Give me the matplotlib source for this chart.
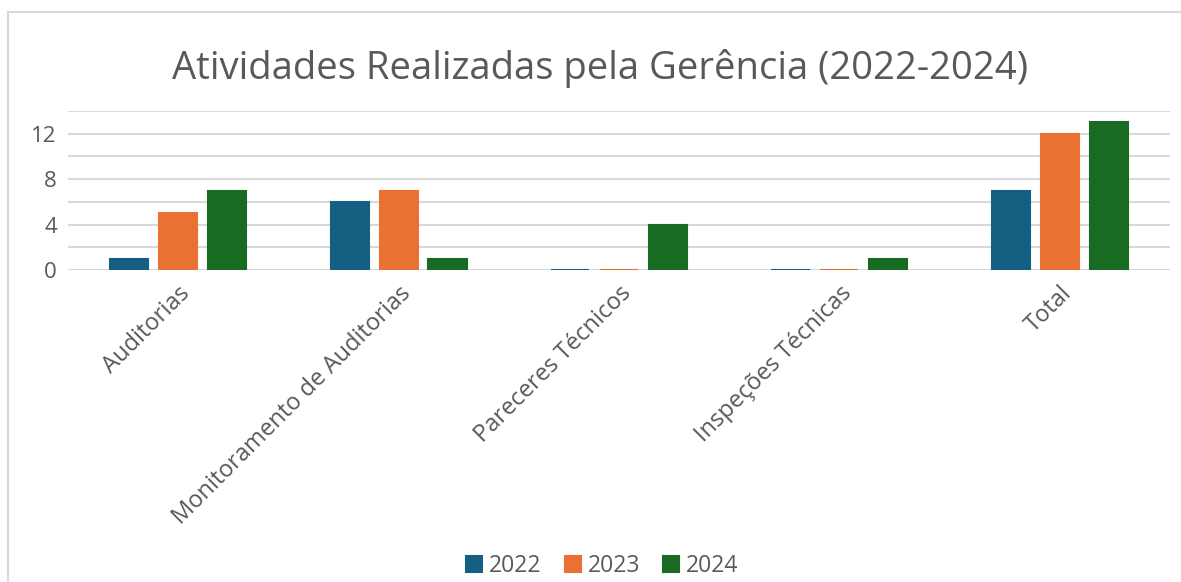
import numpy as np
import matplotlib.pyplot as plt
from matplotlib.patches import Rectangle

plt.rcParams["font.family"] = ["Open Sans", "DejaVu Sans"]

CATEGORIES = ["Auditorias", "Monitoramento de Auditorias", "Pareceres Técnicos",
              "Inspeções Técnicas", "Total"]
YEARS = ["2022", "2023", "2024"]
VALUES_2022 = [1, 6, 0, 0, 7]
VALUES_2023 = [5, 7, 0, 0, 12]
VALUES_2024 = [7, 1, 4, 1, 13]
COLORS = ["#156082", "#E97132", "#196B24"]
TEXT = "#595959"

fig = plt.figure(figsize=(11.81, 5.82), dpi=100)
# chart border (left/top visible like the original)
fig.patches.append(Rectangle((8 / 1181, -0.01), 1.0, 1 - 12 / 582 + 0.01,
                             transform=fig.transFigure, fill=False,
                             edgecolor="#D9D9D9", linewidth=1.5))

ax = fig.add_axes([68 / 1181, 1 - 270 / 582, (1170 - 68) / 1181, (270 - 111) / 582])

x = np.arange(len(CATEGORIES))
width = 0.173
step = 0.222
series = [VALUES_2022, VALUES_2023, VALUES_2024]
for i, (vals, year) in enumerate(zip(series, YEARS)):
    ax.bar(x + (i - 1) * step, vals, width, color=COLORS[i], label=year,
           edgecolor=COLORS[i], linewidth=1.5, zorder=3)

ax.set_xlim(-0.5, len(CATEGORIES) - 0.5)
ax.set_ylim(0, 14)
ax.set_yticks(np.arange(0, 15, 2))
ax.set_yticklabels([str(v) if v % 4 == 0 and v < 14 else "" for v in range(0, 15, 2)])
ax.grid(axis="y", color="#D9D9D9", linewidth=1.5, zorder=0)
for s in ax.spines.values():
    s.set_visible(False)
ax.tick_params(axis="y", length=0, labelsize=16, labelcolor=TEXT, pad=8)
ax.tick_params(axis="x", length=0, labelsize=17, labelcolor=TEXT, pad=8)
ax.set_xticks(x)
ax.set_xticklabels(CATEGORIES, rotation=45, ha="right", rotation_mode="anchor")

fig.text(0.508, 1 - 68 / 582, "Atividades Realizadas pela Gerência (2022-2024)",
         ha="center", va="center", fontsize=27.5, color=TEXT)

fig.legend(loc="center", bbox_to_anchor=(0.51, 1 - 566 / 582), ncol=3, frameon=False,
           fontsize=16.5, labelcolor=TEXT, handlelength=0.7, handleheight=0.7,
           handletextpad=0.3, columnspacing=1.0)

fig.savefig("out.png", dpi=100)
